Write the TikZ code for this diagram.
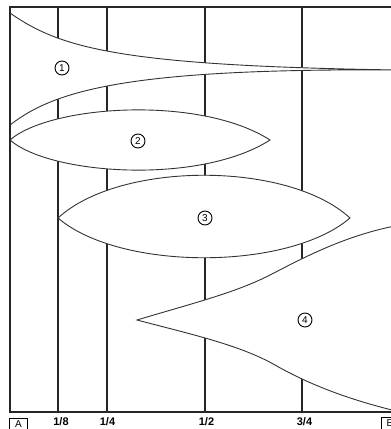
\documentclass[tikz,border=0pt]{standalone}
\usepackage{fontspec}
\setmainfont{Liberation Sans}
\begin{document}
\begin{tikzpicture}[x=1pt,y=-1pt,
  frame/.style={line width=1.6pt, black!85},
  gridline/.style={line width=1.3pt, black!85},
  curve/.style={line width=0.9pt, black!80},
  num/.style={circle, draw, line width=0.9pt, minimum size=14pt, inner sep=0pt, font=\fontsize{10}{10}\selectfont},
  tick/.style={font=\fontsize{11}{11}\selectfont\bfseries, inner sep=0pt},
  endbox/.style={draw, line width=0.8pt, minimum width=18pt, minimum height=12pt, inner sep=0pt, font=\fontsize{10}{10}\selectfont}]
\useasboundingbox (0,0) rectangle (391,429);
\begin{scope}
\clip (0,0) rectangle (391,429);
% vertical division lines
\foreach \x in {58,107,205,302} \draw[gridline] (\x,7) -- (\x,412);
% shape 1
\filldraw[curve, fill=white]
  (10,13) .. controls (60,48) and (120,66) .. (400,70)
  .. controls (130,68) and (55,90) .. (10,125) -- cycle;
% shape 2
\filldraw[curve, fill=white]
  (10,140) .. controls (50,105) and (200,95) .. (270,140)
  .. controls (200,185) and (50,175) .. (10,140) -- cycle;
% shape 3
\filldraw[curve, fill=white]
  (58,218) .. controls (120,161) and (288,161) .. (350,218)
  .. controls (288,271) and (120,271) .. (58,218) -- cycle;
% shape 4
\filldraw[curve, fill=white]
  (137,320) .. controls (190,304) and (235,293) .. (270,275)
  .. controls (301.5,258.8) and (345,235) .. (400,225)
  -- (400,412)
  .. controls (350,400) and (310,385) .. (275,365)
  .. controls (240,345) and (190,334) .. (137,320) -- cycle;
% frame
\draw[frame] (400,7) -- (10,7) -- (10,412) -- (400,412);
% end labels
\node[endbox] (A) at (18.5,424.5) {A};
\node[endbox] (B) at (390,423.5) {B};
\end{scope}
\node[tick] (t18) at (61,422) {1/8};
\node[tick] (t14) at (107.5,422) {1/4};
\node[tick] (t12) at (206.5,422) {1/2};
\node[tick] (t34) at (304.5,422) {3/4};
\node[num] (n1) at (62,68) {1};
\node[num] (n2) at (138,141) {2};
\node[num] (n3) at (205,218) {3};
\node[num] (n4) at (305,320) {4};
\end{tikzpicture}
\end{document}
